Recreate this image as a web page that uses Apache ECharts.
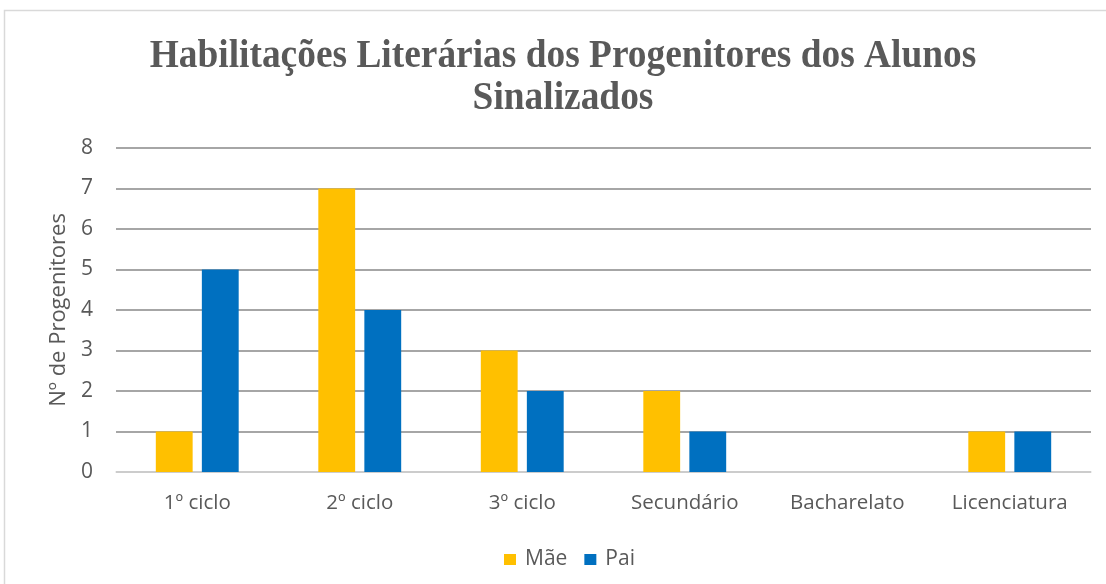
<!DOCTYPE html>
<html>
<head>
<meta charset="utf-8">
<script src="https://cdn.jsdelivr.net/npm/echarts@6/dist/echarts.min.js"></script>
<style>html,body{margin:0;padding:0;background:#fff;}#c{width:1106px;height:584px;}</style>
</head>
<body>
<div id="c"></div>
<script>
const titleLines = ['Habilitações Literárias dos Progenitores dos Alunos', 'Sinalizados'];
const categories = ['1º ciclo', '2º ciclo', '3º ciclo', 'Secundário', 'Bacharelato', 'Licenciatura'];
const seriesNames = ['Mãe', 'Pai'];
const maeValues = [1, 7, 3, 2, 0, 1];
const paiValues = [5, 4, 2, 1, 0, 1];
const yAxisName = 'Nº de Progenitores';

const chart = echarts.init(document.getElementById('c'), null, {renderer: 'canvas'});
const labelFont = '"Open Sans", "Noto Sans", sans-serif';
chart.setOption({
  animation: false,
  backgroundColor: '#fff',
  color: ['#FFC000', '#0070C0'],
  graphic: [
    {type: 'rect', shape: {x: 4.5, y: 10.5, width: 1120, height: 590}, style: {fill: null, stroke: '#d9d9d9', lineWidth: 1.5}, silent: true},
    {type: 'text', x: 563, y: 57, scaleX: 0.935, style: {text: titleLines[0], font: 'bold 40px "Liberation Serif", serif', fill: '#595959', align: 'center', verticalAlign: 'middle'}},
    {type: 'text', x: 563, y: 99, scaleX: 0.935, style: {text: titleLines[1], font: 'bold 40px "Liberation Serif", serif', fill: '#595959', align: 'center', verticalAlign: 'middle'}}
  ],
  grid: {left: 116, right: 15, top: 148, bottom: 112, containLabel: false},
  legend: {
    data: seriesNames,
    top: 544,
    left: 499,
    itemWidth: 12,
    itemHeight: 11,
    itemGap: 17,
    icon: 'rect',
    textStyle: {color: '#595959', fontSize: 21, fontFamily: labelFont, padding: [0, 0, 0, 4]}
  },
  xAxis: {
    type: 'category',
    data: categories,
    axisLine: {lineStyle: {color: '#d9d9d9', width: 1.5}},
    axisTick: {show: false},
    axisLabel: {color: '#595959', fontSize: 20.5, fontFamily: labelFont, margin: 21}
  },
  yAxis: {
    type: 'value',
    min: 0, max: 8, interval: 1,
    name: yAxisName,
    nameLocation: 'middle',
    nameGap: 42,
    nameTextStyle: {color: '#595959', fontSize: 22, fontFamily: labelFont},
    axisLine: {show: false},
    axisTick: {show: false},
    axisLabel: {color: '#595959', fontSize: 21, fontFamily: labelFont, margin: 23},
    splitLine: {lineStyle: {color: '#898989', width: 1.5}}
  },
  series: [
    {name: seriesNames[0], type: 'bar', data: maeValues, barGap: '25%', barCategoryGap: '49%'},
    {name: seriesNames[1], type: 'bar', data: paiValues, barGap: '25%', barCategoryGap: '49%'}
  ]
});
</script>
</body>
</html>
